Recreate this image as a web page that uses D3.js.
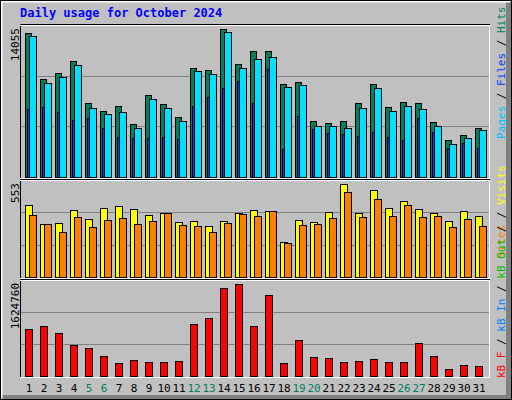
<!DOCTYPE html>
<html><head><meta charset="utf-8">
<script src="https://cdn.jsdelivr.net/npm/d3@7"></script>
<style>body{margin:0;background:#fff}svg{display:block}</style>
</head><body><svg id="c" width="512" height="400"></svg>
<script>
const days = d3.range(1, 32);
const weekend = [5,6,12,13,19,20,26,27];
const hits = [13680,9310,9880,11020,7030,6270,6745,5035,7790,6935,5700,10355,10165,14055,10735,11970,11970,8835,9025,5320,5130,5320,7030,8835,6650,7125,7030,5225,3515,3990,4655];
const files = [13395,8930,9500,10640,6555,5985,6175,4655,7410,6555,5320,10070,9785,13775,10355,11210,11400,8550,8740,4845,4845,4655,6555,8455,6270,6745,6460,4845,3135,3705,4465];
const pages = [6460,6650,6175,5415,5605,4655,3800,3705,3705,3800,3610,6745,7600,8455,9120,7030,10260,2660,5795,4560,4180,4085,3895,4275,3800,3515,5605,4275,2755,3230,2755];
const visits = [427,313,319,397,343,409,421,403,367,379,325,331,301,331,379,397,391,210,337,325,385,553,379,517,409,451,403,379,331,391,361];
const sites = [367,313,270,355,295,337,349,313,331,379,307,301,270,319,373,361,391,204,307,313,349,505,355,463,361,427,355,361,295,343,301];
const kbytes = [821212,874384,750316,537628,484456,360388,236320,289492,254044,254044,271768,909832,1016176,1547896,1624760,874384,1423828,236320,626248,342664,324940,254044,271768,307216,254044,254044,573076,360388,129976,200872,183148];
const title = "Daily usage for October 2024";
const maxLabels = ["14055","553","1624760"];

const svg = d3.select("#c");
const font = "'DejaVu Sans Mono', monospace";
// frame
svg.append("rect").attr("x",0).attr("y",0).attr("width",512).attr("height",400).attr("fill","#c0c0c0");
svg.append("rect").attr("x",506).attr("y",2).attr("width",5).attr("height",397).attr("fill","#808080");
svg.append("rect").attr("x",2).attr("y",395).attr("width",509).attr("height",4).attr("fill","#808080");
svg.append("path").attr("d","M1.5,398 V1.5 H510").attr("stroke","#fff").attr("stroke-width",2).attr("fill","none");
svg.append("rect").attr("x",0.5).attr("y",0.5).attr("width",511).attr("height",399).attr("fill","none").attr("stroke","#000");
svg.append("text").attr("x",20).attr("y",17).attr("fill","#0000ff").attr("font-family",font).attr("font-weight","bold").attr("font-size",12).text(title);

const x = d3.scaleBand().domain(days).range([21, 486]);
const L = 20, R = 490;
const panels = [
 {top:25, bot:177, max:14435},
 {top:180, bot:277, max:577},
 {top:280, bot:376, max:1689688}
];
panels.forEach(p => {
  p.y = d3.scaleLinear().domain([0,p.max]).range([p.bot, p.top]);
  svg.append("path").attr("d",`M${L+0.5},${p.bot+1} V${p.top-0.5} H${R}`).attr("stroke","#000").attr("fill","none");
  svg.append("path").attr("d",`M${L},${p.top+0.5} H${R-0.5} V${p.bot+1}`).attr("stroke","#fff").attr("fill","none");
  svg.append("path").attr("d",`M${L},${p.bot+1.5} H${R}`).attr("stroke","#fff").attr("fill","none");
  [1/3,2/3].forEach(f => {
    const yy = Math.round(p.y(p.max*f))+0.5;
    svg.append("line").attr("x1",L+1).attr("x2",R-1).attr("y1",yy).attr("y2",yy).attr("stroke","#808080");
  });
});

function bars(vals, p, off, w, color){
  svg.append("g").selectAll("rect").data(vals).join("rect")
    .attr("x",(d,i)=>x(days[i])+off+0.5).attr("width",w)
    .attr("y",d=>Math.round(p.y(d))+0.5).attr("height",d=>p.bot-Math.round(p.y(d)))
    .attr("fill",color).attr("stroke","#000");
}
bars(hits, panels[0], 4, 6, "#008060");
bars(files, panels[0], 8, 7, "#00e0ff");
bars(pages, panels[0], 6, 2, "#0040ff");
bars(visits, panels[1], 4, 7, "#ffff00");
bars(sites, panels[1], 8, 7, "#ff8000");
bars(kbytes, panels[2], 4, 7, "#ff0000");

// x labels
svg.append("g").selectAll("text").data(days).join("text")
  .attr("x",d=>x(d)+8).attr("y",392).attr("text-anchor","middle")
  .attr("font-family",font).attr("font-size",11)
  .attr("fill",d=>weekend.includes(d)?"#008060":"#000").text(d=>d);

// max labels
const maxY=[28,183,283];
maxLabels.forEach((t,i)=>{
  svg.append("text").attr("transform",`translate(19,${maxY[i]}) rotate(-90)`).attr("text-anchor","end")
   .attr("font-family",font).attr("font-size",11).attr("fill","#000").text(t);
});

// legends
function legend(y0, parts){
  const t = svg.append("text").attr("transform",`translate(505,${y0}) rotate(-90)`)
    .attr("font-family",font).attr("font-size",11);
  parts.forEach(([s,c])=>t.append("tspan").attr("fill",c).text(s));
}
legend(139, [["Pages","#00c0ff"],[" / ","#000"],["Files","#0040ff"],[" / ","#000"],["Hits","#008060"]]);
legend(258, [["Sites","#ff8000"],[" / ","#000"],["Visits","#ffff00"]]);
legend(378, [["kB F","#ff0000"],[" / ","#000"],["kB In","#0080ff"],[" / ","#000"],["kB Out","#00c000"],[" / ","#000"]]);
</script></body></html>
